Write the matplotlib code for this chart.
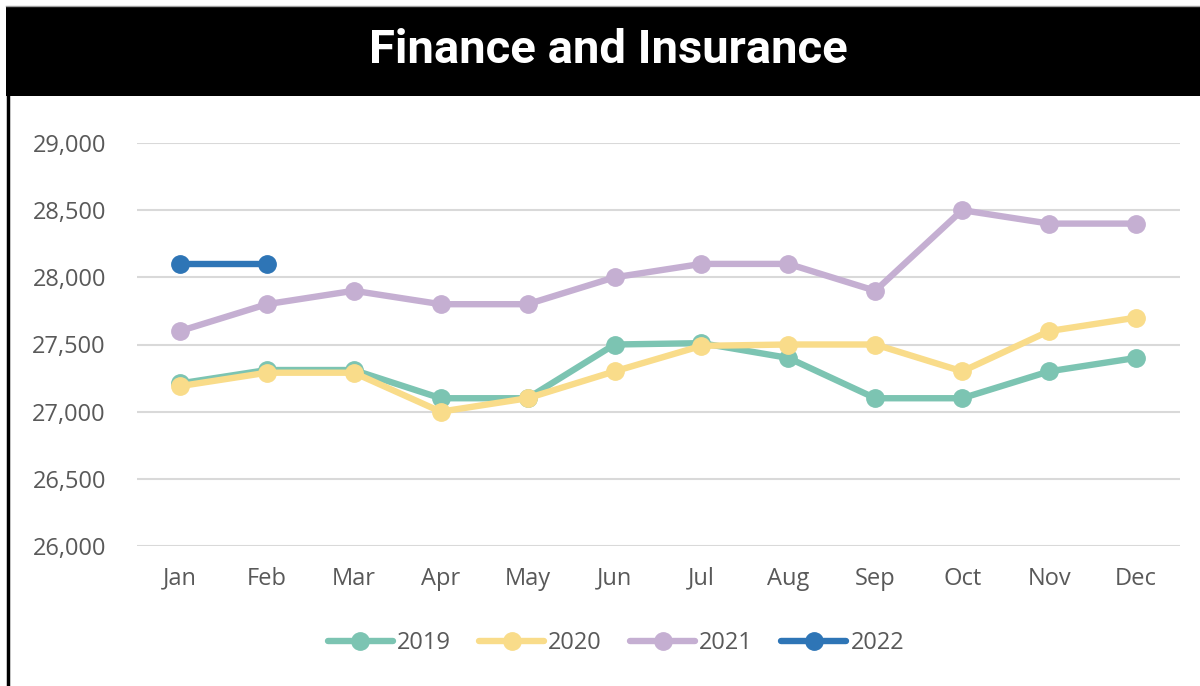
import matplotlib.pyplot as plt
from matplotlib.patches import Rectangle
from matplotlib.lines import Line2D

months = ["Jan", "Feb", "Mar", "Apr", "May", "Jun", "Jul", "Aug", "Sep", "Oct", "Nov", "Dec"]
years = ["2019", "2020", "2021", "2022"]
v2019 = [27210, 27310, 27310, 27100, 27100, 27500, 27510, 27400, 27100, 27100, 27300, 27400]
v2020 = [27190, 27290, 27290, 27000, 27100, 27300, 27490, 27500, 27500, 27300, 27600, 27700]
v2021 = [27600, 27800, 27900, 27800, 27800, 28000, 28100, 28100, 27900, 28500, 28400, 28400]
v2022 = [28100, 28100]
colors = ["#7CC4B2", "#F9DC8A", "#C5AFD2", "#2E75B6"]
yticks = [26000, 26500, 27000, 27500, 28000, 28500, 29000]

W, H = 1200, 686
fig = plt.figure(figsize=(12, 6.86), dpi=100)

# title bar and left border
fig.add_artist(Line2D([6 / W, 1], [1 - 6 / H, 1 - 6 / H], transform=fig.transFigure,
                      color="#A0A0A0", linewidth=1))
fig.add_artist(Rectangle((6 / W, 1 - 96 / H), 1 - 6 / W, 90 / H, transform=fig.transFigure,
                         facecolor="black", edgecolor="none"))
fig.add_artist(Line2D([7.5 / W, 7.5 / W], [0, 1 - 96 / H], transform=fig.transFigure,
                      color="black", linewidth=2.5))
fig.text(608 / W, 1 - 50 / H, "Finance and Insurance", color="white", ha="center", va="center",
         fontsize=34, fontweight="bold", family=["Roboto", "DejaVu Sans"])

ax = fig.add_axes([136.5 / W, 1 - 546 / H, (1179.5 - 136.5) / W, (546 - 143) / H])
x = list(range(len(months)))
series = [v2019, v2020, v2021, v2022]
for vals, c, lab in zip(series, colors, years):
    ax.plot(x[:len(vals)], vals, color=c, linewidth=4.6, marker="o", markersize=12.5,
            solid_capstyle="round", label=lab, clip_on=False)

ax.set_xlim(-0.5, 11.5)
ax.set_ylim(26000, 29000)
ax.set_yticks(yticks)
ax.set_yticklabels([f"{v:,}" for v in yticks])
ax.set_xticks(x)
ax.set_xticklabels(months)
ax.grid(axis="y", color="#D9D9D9", linewidth=1.5)
ax.set_axisbelow(True)
for s in ax.spines.values():
    s.set_visible(False)
ax.tick_params(length=0, labelsize=17, labelcolor="#595959")
ax.tick_params(axis="x", pad=15)
ax.tick_params(axis="y", pad=22)
for lbl in ax.get_xticklabels() + ax.get_yticklabels():
    lbl.set_family("Open Sans")

leg = fig.legend(loc="center", bbox_to_anchor=(616 / W, 1 - 643 / H), ncol=4, frameon=False,
                 handlelength=2.75, columnspacing=1.2, handletextpad=0.17,
                 prop={"family": "Open Sans", "size": 17})
for t in leg.get_texts():
    t.set_color("#595959")

fig.savefig("out.png", dpi=100)
